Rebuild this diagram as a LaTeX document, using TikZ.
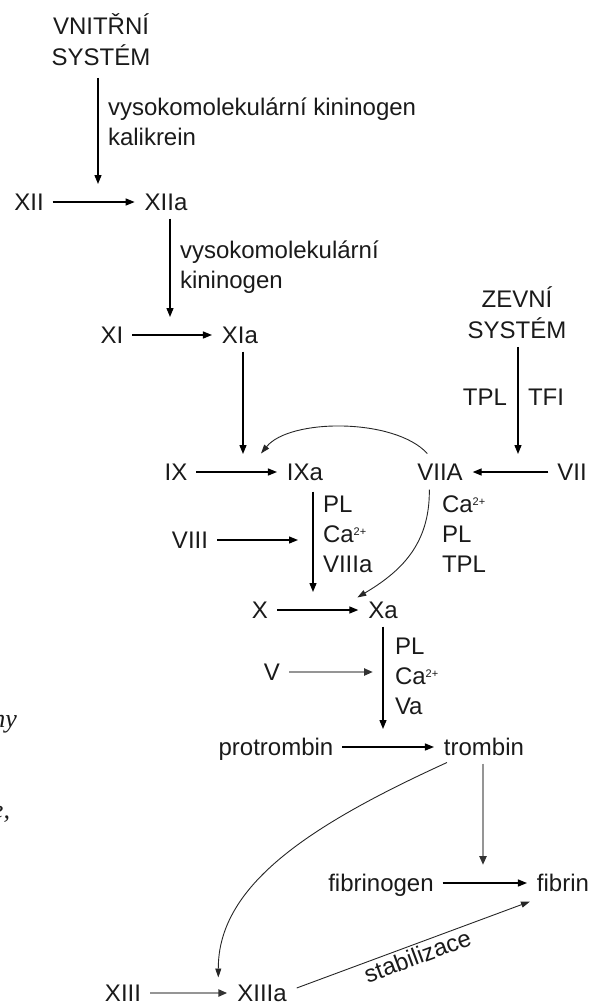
\documentclass[tikz,border=0pt]{standalone}
\usepackage{fontspec}
\setmainfont{Liberation Sans}
\newfontfamily\pagefont{Liberation Serif}
\usetikzlibrary{arrows.meta}
\definecolor{ArrowGray}{HTML}{959595}
\definecolor{TextBlack}{HTML}{1A1A1A}
\newcommand\caion{Ca\raisebox{7pt}{\fontsize{11}{11}\selectfont 2+}}

\begin{document}
\begin{tikzpicture}[x=1pt,y=-1pt,
  every node/.style={inner sep=0pt,outer sep=0pt,text=TextBlack,font=\fontsize{24}{30}\selectfont},
  f/.style={text height=17pt,text depth=0pt},
  side/.style={align=left,anchor=base west},
  head/.style={align=center,anchor=base,font=\fontsize{24}{31}\selectfont},
  arr/.style={line width=1.3pt,-{Triangle[length=9pt,width=7pt]},shorten <=9pt,shorten >=10pt},
  downarr/.style={arr,shorten <=8pt,shorten >=18pt},
  greyarr/.style={draw=ArrowGray,line width=2.6pt,-{Triangle[length=9pt,width=7pt,color=black!80]}},
  curvearr/.style={line width=0.9pt,draw=black!85,-{Triangle[length=9pt,width=6pt]}}]
  \useasboundingbox (0,0) rectangle (612,1005);
  % the two starting systems
  \node[head] (vnitrni) at (101,65.6) {VNITŘNÍ\\SYSTÉM};
  \node[head] (zevni) at (517,338.6) {ZEVNÍ\\SYSTÉM};
  % factors
  \node[f] (xii) at (29,202) {XII};         \node[f] (xiia) at (166,202) {XIIa};
  \node[f] (xi) at (112,335) {XI};          \node[f] (xia) at (240,335) {XIa};
  \node[f] (ix) at (176,472) {IX};          \node[f] (ixa) at (305,472) {IXa};
  \node[f] (viia) at (440,472) {VIIA};      \node[f] (vii) at (572,472) {VII};
  \node[f] (viii) at (190,540) {VIII};
  \node[f] (x) at (260,610) {X};            \node[f] (xa) at (383,610) {Xa};
  \node[f] (v) at (272,672) {V};
  \node[f] (protrombin) at (276,747) {protrombin};  \node[f] (trombin) at (484,747) {trombin};
  \node[f] (fibrinogen) at (381,883) {fibrinogen};  \node[f] (fibrin) at (563,883) {fibrin};
  \node[f] (xiii) at (123,993) {XIII};      \node[f] (xiiia) at (262,993) {XIIIa};
  % cofactors beside the arrows
  \node[side] (kofa) at (108,145.6) {vysokomolekulární kininogen\\kalikrein};
  \node[side] (kofb) at (180,288.6) {vysokomolekulární\\kininogen};
  \node[anchor=base east] (tpl) at (507,405.6) {TPL};
  \node[anchor=base west] (tfi) at (528,405.6) {TFI};
  \node[side] (kofc) at (323,572.6) {PL\\\caion\\VIIIa};
  \node[side] (kofd) at (442,572.6) {\caion\\PL\\TPL};
  \node[side] (kofe) at (395,714.6) {PL\\\caion\\Va};
  % cut text of the page
  \node[anchor=base east,font=\pagefont\itshape\fontsize{26}{26}\selectfont] (fragny) at (17,727) {ny};
  \node[anchor=base east,font=\pagefont\itshape\fontsize{26}{26}\selectfont] (frage) at (10,818) {e,};
  % points on the reaction arrows
  \coordinate (onb) at (98,202);   \coordinate (ond) at (170,335);
  \coordinate (ong) at (243,472);  \coordinate (onh) at (518,472);
  \coordinate (onk) at (313,540);  \coordinate (onm) at (313,610);
  \coordinate (ono) at (383,672);  \coordinate (onp) at (383,747);
  \coordinate (ons) at (483,883);
  % arrows
  \draw[downarr,shorten <=12pt] (vnitrni.south -| onb) -- (onb);
  \draw[arr] (xii) -- (xiia);
  \draw[downarr] (xiia.south -| ond) -- (ond);
  \draw[arr] (xi) -- (xia);
  \draw[downarr] (xia.south -| ong) -- (ong);
  \draw[downarr] (zevni.south -| onh) -- (onh);
  \draw[arr] (ix) -- (ixa);
  \draw[arr] (vii) -- (viia);
  \draw[curvearr] ([shift={(10,-10)}]viia.north west) .. controls (395,418) and (290,418) .. ([shift={(-26,-10)}]ixa.north west);
  \draw[downarr,shorten <=11pt] (ixa.south -| onm) -- (onm);
  \draw[arr,shorten >=15pt] (viii) -- (onk);
  \draw[curvearr] ([shift={(12,9)}]viia.south west) .. controls (430,545) and (400,572) .. ([shift={(-11,-4)}]xa.north west);
  \draw[arr] (x) -- (xa);
  \draw[downarr] (xa) -- (onp);
  \draw[arr,greyarr] (v) -- (ono);
  \draw[arr] (protrombin) -- (trombin);
  \draw[downarr,greyarr] (trombin.south -| ons) -- (ons);
  \draw[curvearr] ([shift={(3,7)}]trombin.south west) .. controls (310,825) and (218,885) .. ([shift={(-19,-7)}]xiiia.north west);
  \draw[arr] (fibrinogen) -- (fibrin);
  \draw[arr,greyarr] (xiii) -- (xiiia);
  \draw[curvearr] ([shift={(10,-5)}]xiiia.east) -- ([shift={(-7,10)}]fibrin.south west)
    node[midway,sloped,below=3pt] {stabilizace};
\end{tikzpicture}
\end{document}
